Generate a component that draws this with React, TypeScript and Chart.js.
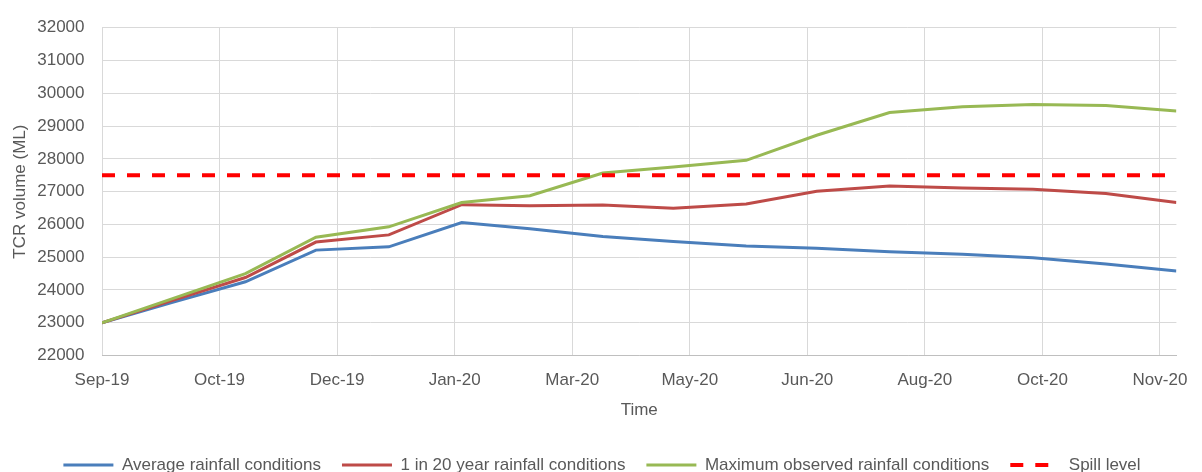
import React, { useEffect, useRef } from 'react';
import { Chart, registerables } from 'chart.js';

Chart.register(...registerables);

// ---- Data ----
const MONTH_DATES = [
  '2019-09-01', '2019-10-01', '2019-11-01', '2019-12-01',
  '2020-01-01', '2020-02-01', '2020-03-01', '2020-04-01',
  '2020-05-01', '2020-06-01', '2020-07-01', '2020-08-01',
  '2020-09-01', '2020-10-01', '2020-11-01', '2020-12-01',
];
const AVERAGE_RAINFALL = [
  23000, 23620, 24250, 25215, 25315, 26055, 25870, 25630,
  25480, 25340, 25275, 25165, 25090, 24980, 24790, 24575,
];
const ONE_IN_20_RAINFALL = [
  23000, 23680, 24380, 25460, 25680, 26600, 26570, 26590,
  26490, 26620, 27010, 27170, 27110, 27070, 26945, 26665,
];
const MAXIMUM_RAINFALL = [
  23000, 23735, 24500, 25610, 25925, 26665, 26875, 27565,
  27750, 27955, 28720, 29410, 29590, 29655, 29625, 29460,
];
const SPILL_LEVEL = 27500;

const SERIES_LABELS = [
  'Average rainfall conditions',
  '1 in 20 year rainfall conditions',
  'Maximum observed rainfall conditions',
  'Spill level',
];

const AXIS_START = '2019-09-01';
const AXIS_END = '2020-12-01';
const TICK_DATES = [
  '2019-09-01', '2019-10-21', '2019-12-10', '2020-01-29', '2020-03-19',
  '2020-05-08', '2020-06-27', '2020-08-16', '2020-10-05', '2020-11-24',
];
const TICK_LABELS = [
  'Sep-19', 'Oct-19', 'Dec-19', 'Jan-20', 'Mar-20',
  'May-20', 'Jun-20', 'Aug-20', 'Oct-20', 'Nov-20',
];
const Y_MIN = 22000;
const Y_MAX = 32000;
const Y_STEP = 1000;

// ---- Helpers ----
const DAY_MS = 86400000;
const dayOf = (s: string) => (Date.parse(s) - Date.parse(AXIS_START)) / DAY_MS;
const series = (vals: number[]) => MONTH_DATES.map((d, i) => ({ x: dayOf(d), y: vals[i] }));
const TICK_DAYS = TICK_DATES.map(dayOf);

const FONT = "'Liberation Sans', Arial, sans-serif";
const TEXT = '#595959';

const legendShift = {
  id: 'legendShift',
  afterLayout(chart: any) {
    const l = chart.legend;
    if (l) {
      l.left += 12;
      l.right += 12;
    }
  },
};

export default function App() {
  const ref = useRef<HTMLCanvasElement>(null);

  useEffect(() => {
    const chart = new Chart(ref.current as HTMLCanvasElement, {
      type: 'line',
      data: {
        datasets: [
          {
            label: SERIES_LABELS[0],
            data: series(AVERAGE_RAINFALL),
            borderColor: '#4A7EBB',
            backgroundColor: '#4A7EBB',
            borderWidth: 3,
            pointRadius: 0,
            order: 3,
          },
          {
            label: SERIES_LABELS[1],
            data: series(ONE_IN_20_RAINFALL),
            borderColor: '#BE4B48',
            backgroundColor: '#BE4B48',
            borderWidth: 3,
            pointRadius: 0,
            order: 2,
          },
          {
            label: SERIES_LABELS[2],
            data: series(MAXIMUM_RAINFALL),
            borderColor: '#98B954',
            backgroundColor: '#98B954',
            borderWidth: 3,
            pointRadius: 0,
            order: 1,
          },
          {
            label: SERIES_LABELS[3],
            data: [
              { x: dayOf(AXIS_START), y: SPILL_LEVEL },
              { x: dayOf(AXIS_END), y: SPILL_LEVEL },
            ],
            borderColor: '#FF0000',
            backgroundColor: '#FF0000',
            borderWidth: 4,
            borderDash: [13, 12],
            pointRadius: 0,
            order: 0,
          },
        ],
      },
      options: {
        animation: false,
        responsive: false,
        devicePixelRatio: 1,
        events: [],
        layout: { padding: { left: 0, top: 17.5, right: 22, bottom: -11.5 } },
        plugins: {
          tooltip: { enabled: false },
          legend: {
            position: 'bottom',
            align: 'center',
            labels: {
              usePointStyle: true,
              pointStyle: 'line',
              pointStyleWidth: 50,
              padding: 21,
              color: TEXT,
              font: { family: FONT, size: 17 },
              generateLabels: (c: any) => {
                const items = (Chart as any).defaults.plugins.legend.labels.generateLabels(c);
                return items
                  .map((it: any) => {
                    const ds: any = c.data.datasets[it.datasetIndex];
                    return {
                      ...it,
                      strokeStyle: ds.borderColor,
                      fillStyle: ds.borderColor,
                      lineWidth: ds.borderWidth,
                      lineDash: ds.borderDash || [],
                      lineCap: 'butt',
                      pointStyle: 'line',
                    };
                  })
                  .sort((a: any, b: any) => a.datasetIndex - b.datasetIndex);
              },
            },
          },
        },
        scales: {
          x: {
            type: 'linear',
            min: dayOf(AXIS_START),
            max: dayOf(AXIS_END),
            afterBuildTicks: (scale: any) => {
              scale.ticks = TICK_DAYS.map((v) => ({ value: v }));
            },
            afterFit: (scale: any) => {
              scale.height = 80;
            },
            ticks: {
              autoSkip: false,
              maxRotation: 0,
              minRotation: 0,
              padding: 14.3,
              color: TEXT,
              font: { family: FONT, size: 17 },
              callback: (v: any) => {
                const i = TICK_DAYS.indexOf(Number(v));
                return i >= 0 ? TICK_LABELS[i] : '';
              },
            },
            grid: { color: '#D9D9D9', lineWidth: 1, drawTicks: false },
            border: { display: true, color: '#BFBFBF', width: 1 },
            title: {
              display: true,
              text: 'Time',
              color: TEXT,
              font: { family: FONT, size: 17 },
              padding: { top: 0, bottom: 15.3 },
            },
          },
          y: {
            type: 'linear',
            min: Y_MIN,
            max: Y_MAX,
            afterFit: (scale: any) => {
              scale.width = 102;
            },
            ticks: {
              stepSize: Y_STEP,
              padding: 17.5,
              color: TEXT,
              font: { family: FONT, size: 17 },
              callback: (v: any) => String(v),
            },
            grid: { color: '#D9D9D9', lineWidth: 1, drawTicks: false },
            border: { display: false },
            title: {
              display: true,
              text: 'TCR volume (ML)',
              color: TEXT,
              font: { family: FONT, size: 17 },
              padding: { top: 10.3, bottom: 0 },
            },
          },
        },
      },
      plugins: [legendShift],
    } as any);
    return () => chart.destroy();
  }, []);

  return (
    <div style={{ position: 'fixed', left: 0, top: 0, width: 1202, height: 472, background: '#ffffff' }}>
      <canvas ref={ref} width={1202} height={472} style={{ display: 'block', width: 1202, height: 472 }} />
    </div>
  );
}
